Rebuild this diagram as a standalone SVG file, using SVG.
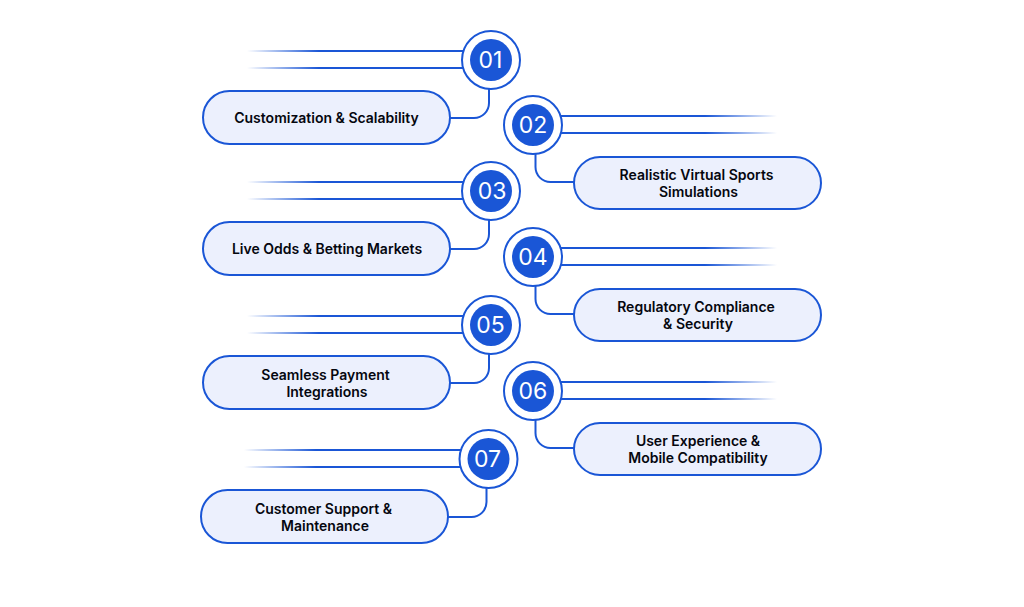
<svg xmlns="http://www.w3.org/2000/svg" width="1024" height="607" viewBox="0 0 1024 607">
<style>
.ring{fill:#fff;stroke:#1a56d6;stroke-width:2}
.core{fill:#1a56d6}
.num{font-family:Inter,"Liberation Sans",sans-serif;font-size:23px;font-weight:400;fill:#fff;text-anchor:middle}
.pill{fill:#ecf0fd;stroke:#1a56d6;stroke-width:2}
.lab{font-family:Inter,"Liberation Sans",sans-serif;font-size:14px;font-weight:600;fill:#05070f;text-anchor:middle}
.con{fill:none;stroke:#1a56d6;stroke-width:2}
</style>
<defs>
<linearGradient id="fl"><stop offset="0" stop-color="#1a56d6" stop-opacity="0"/><stop offset="0.32" stop-color="#1a56d6"/><stop offset="1" stop-color="#1a56d6"/></linearGradient>
<linearGradient id="fr"><stop offset="0" stop-color="#1a56d6"/><stop offset="0.68" stop-color="#1a56d6"/><stop offset="1" stop-color="#1a56d6" stop-opacity="0"/></linearGradient>
</defs>
<rect width="1024" height="607" fill="#fff"/>
<g id="connectors">
<rect x="247" y="50" width="225" height="2" fill="url(#fl)"/><rect x="247" y="67" width="225" height="2" fill="url(#fl)"/>
<path class="con" d="M489 88V103A15 15 0 0 1 474 118H450"/>
<rect x="552" y="115" width="225" height="2" fill="url(#fr)"/><rect x="552" y="132" width="225" height="2" fill="url(#fr)"/>
<path class="con" d="M535.500 153V167A15 15 0 0 0 550.500 182H574"/>
<rect x="247" y="181" width="225" height="2" fill="url(#fl)"/><rect x="247" y="198" width="225" height="2" fill="url(#fl)"/>
<path class="con" d="M489 219V234A15 15 0 0 1 474 249H450"/>
<rect x="552" y="247" width="225" height="2" fill="url(#fr)"/><rect x="552" y="264" width="225" height="2" fill="url(#fr)"/>
<path class="con" d="M535.500 285V299A15 15 0 0 0 550.500 314H574"/>
<rect x="247" y="315" width="225" height="2" fill="url(#fl)"/><rect x="247" y="332" width="225" height="2" fill="url(#fl)"/>
<path class="con" d="M489 353V368A15 15 0 0 1 474 383H450"/>
<rect x="552" y="381" width="225" height="2" fill="url(#fr)"/><rect x="552" y="398" width="225" height="2" fill="url(#fr)"/>
<path class="con" d="M535.500 419V433A15 15 0 0 0 550.500 448H574"/>
<rect x="244" y="449" width="225" height="2" fill="url(#fl)"/><rect x="244" y="466" width="225" height="2" fill="url(#fl)"/>
<path class="con" d="M486.500 487V502A15 15 0 0 1 471.500 517H448"/>
</g>
<g id="node-01"><circle class="ring" cx="491" cy="60" r="29"/><circle class="core" cx="491" cy="60" r="21"/><text class="num" x="490.500" y="68">01</text>
<rect class="pill" x="203" y="91" width="247" height="53" rx="26.500"/><text class="lab" x="326.500" y="123">Customization &amp; Scalability</text></g>
<g id="node-02"><circle class="ring" cx="533" cy="125" r="29"/><circle class="core" cx="533" cy="125" r="21"/><text class="num" x="533" y="133">02</text>
<rect class="pill" x="574" y="157" width="247" height="52" rx="26"/><text class="lab" x="696.500" y="180">Realistic Virtual Sports</text><text class="lab" x="698.500" y="197">Simulations</text></g>
<g id="node-03"><circle class="ring" cx="491" cy="191" r="29"/><circle class="core" cx="491" cy="191" r="21"/><text class="num" x="492" y="199">03</text>
<rect class="pill" x="203" y="222" width="247" height="53" rx="26.500"/><text class="lab" x="327" y="254">Live Odds &amp; Betting Markets</text></g>
<g id="node-04"><circle class="ring" cx="533" cy="257" r="29"/><circle class="core" cx="533" cy="257" r="21"/><text class="num" x="533" y="265">04</text>
<rect class="pill" x="574" y="289" width="247" height="52" rx="26"/><text class="lab" x="696" y="312">Regulatory Compliance</text><text class="lab" x="698" y="329">&amp; Security</text></g>
<g id="node-05"><circle class="ring" cx="491" cy="325" r="29"/><circle class="core" cx="491" cy="325" r="21"/><text class="num" x="490.500" y="333">05</text>
<rect class="pill" x="203" y="356" width="247" height="53" rx="26.500"/><text class="lab" x="325.500" y="380">Seamless Payment</text><text class="lab" x="327" y="397">Integrations</text></g>
<g id="node-06"><circle class="ring" cx="533" cy="391" r="29"/><circle class="core" cx="533" cy="391" r="21"/><text class="num" x="533" y="399">06</text>
<rect class="pill" x="574" y="423" width="247" height="52" rx="26"/><text class="lab" x="698" y="446">User Experience &amp;</text><text class="lab" x="698" y="463">Mobile Compatibility</text></g>
<g id="node-07"><circle class="ring" cx="488.500" cy="459" r="29"/><circle class="core" cx="488.500" cy="459" r="21"/><text class="num" x="487.500" y="467">07</text>
<rect class="pill" x="201" y="490" width="247" height="53" rx="26.500"/><text class="lab" x="323.500" y="514">Customer Support &amp;</text><text class="lab" x="325" y="531">Maintenance</text></g>
</svg>
